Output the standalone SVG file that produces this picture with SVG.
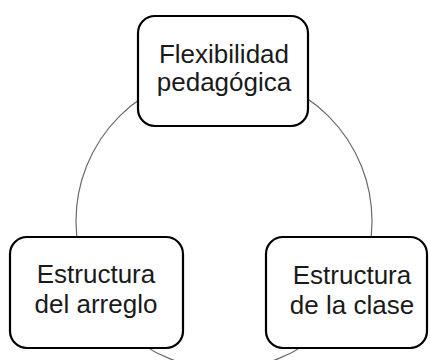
<svg xmlns="http://www.w3.org/2000/svg" width="430" height="360" viewBox="0 0 430 360">
<style>
.node rect{fill:#fff;stroke:#000;stroke-width:2.2}
.node text{font-family:"Liberation Sans",Arial,sans-serif;font-size:26px;fill:#1a1a1a;text-anchor:middle}
.conn{fill:none;stroke:#6b6b6b;stroke-width:1.2}
</style>
<rect width="430" height="360" fill="#fff"/>
<g id="connectors">
<circle class="conn" cx="224" cy="221" r="148"/>
</g>
<g id="node-flexibilidad" class="node">
<rect x="138" y="16" width="170" height="110" rx="17"/>
<text x="224" y="63">Flexibilidad</text>
<text x="224" y="91">pedagógica</text>
</g>
<g id="node-arreglo" class="node">
<rect x="10" y="237" width="173" height="111" rx="17"/>
<text x="96" y="283">Estructura</text>
<text x="96" y="313">del arreglo</text>
</g>
<g id="node-clase" class="node">
<rect x="266" y="237" width="161" height="111" rx="17"/>
<text x="352" y="284">Estructura</text>
<text x="352" y="314">de la clase</text>
</g>
</svg>
